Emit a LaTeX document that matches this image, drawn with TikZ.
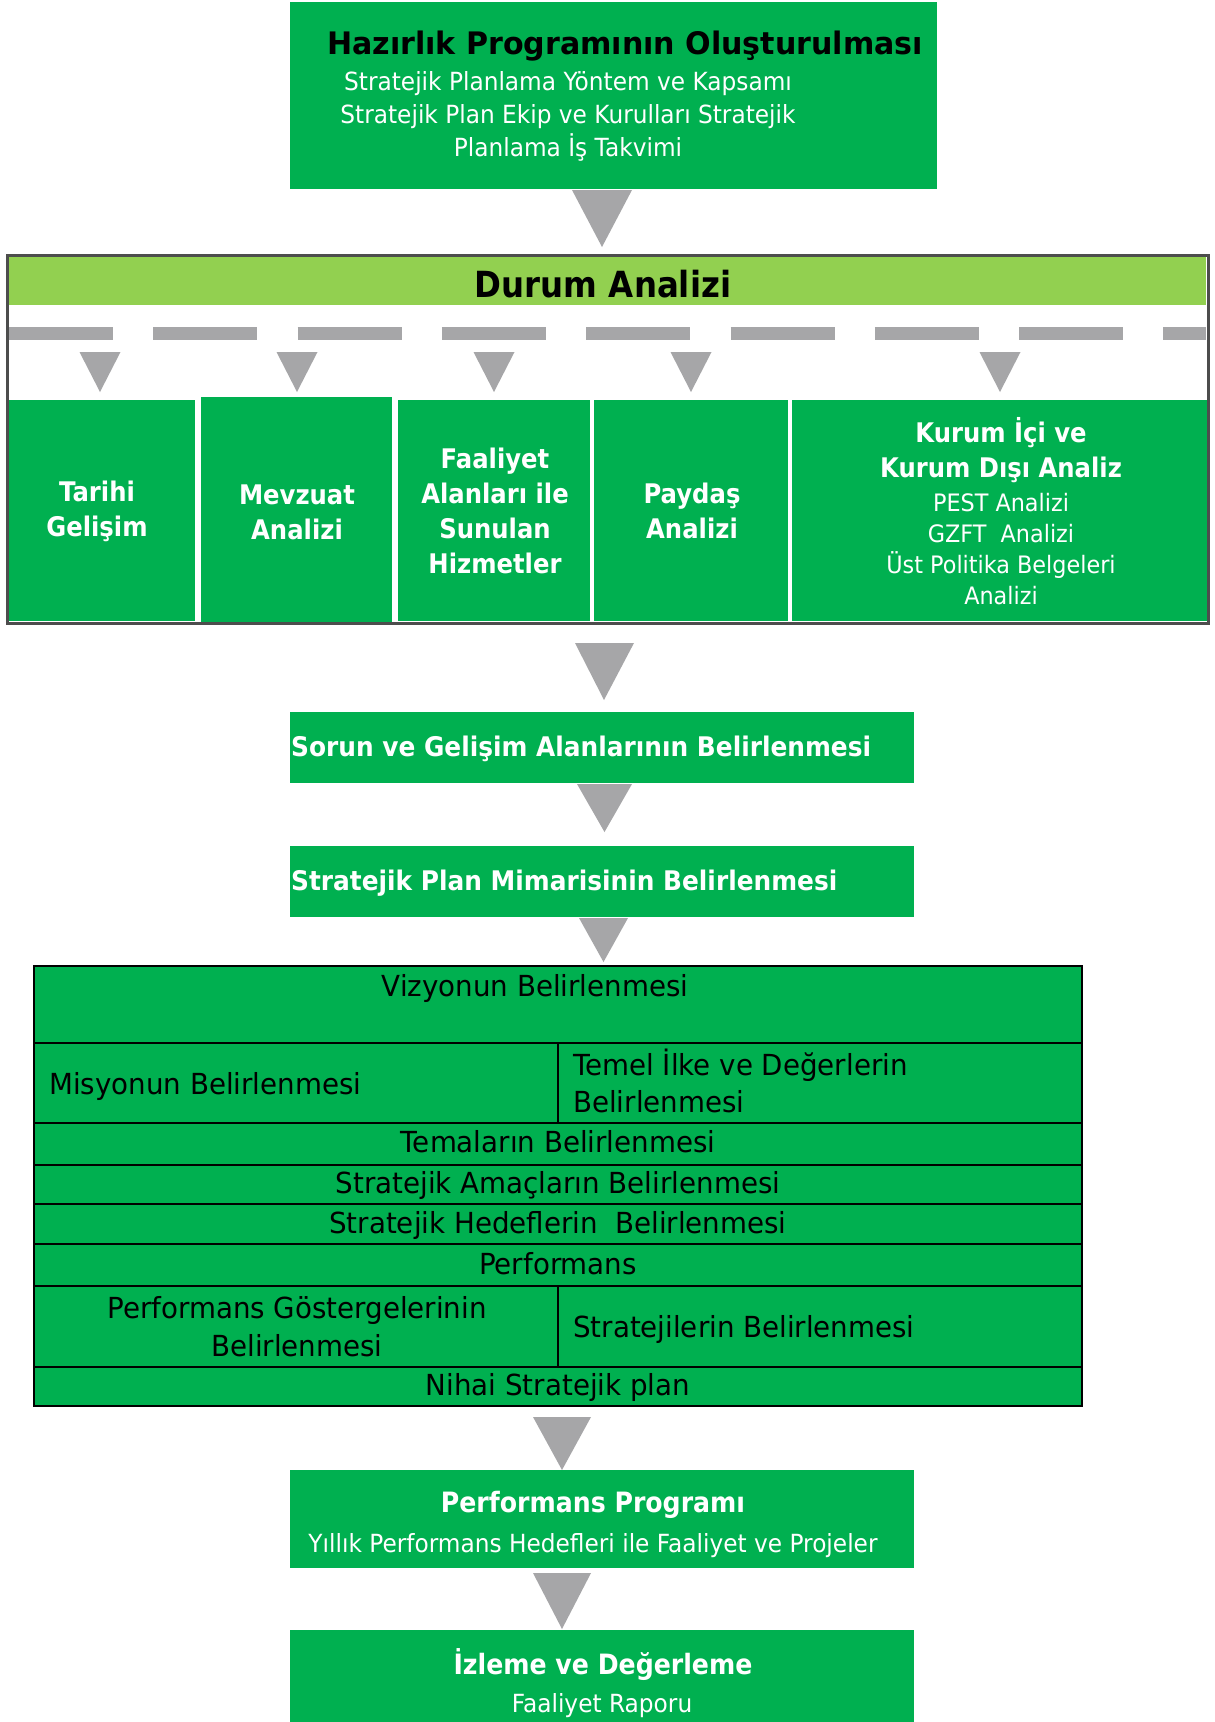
\documentclass[tikz,border=0pt]{standalone}
\usepackage{fontspec}
\setmainfont{DejaVu Sans}
\newfontfamily\bdf{DejaVu Sans}[FakeStretch=0.9]
\newfontfamily\bdg{DejaVu Sans}[FakeStretch=0.92]
\newfontfamily\rgf{DejaVu Sans}[FakeStretch=0.93]
\newfontfamily\tbf{DejaVu Sans}[FakeStretch=0.955]
\newfontfamily\ttf{DejaVu Sans}[FakeStretch=0.97]
\usetikzlibrary{calc}
\definecolor{pgreen}{HTML}{00B050}
\definecolor{lgreen}{HTML}{92D050}
\definecolor{agray}{HTML}{A6A6A8}
\definecolor{bgray}{HTML}{4D4D4D}
\tikzset{
  gbox/.style={fill=pgreen, draw=none, inner sep=0pt, outer sep=0pt, rectangle},
  tri/.style={fill=agray, draw=none},
  wtxt/.style={text=white, inner sep=0pt, align=center},
  ktxt/.style={text=black, inner sep=0pt, align=center},
  cell/.style={fill=pgreen, draw=black, line width=2.5pt, inner sep=0pt, outer sep=0pt, rectangle},
  bsz/.style={font=\bdf\bfseries\fontsize{27}{35}\selectfont},
  bbig/.style={font=\bdf\bfseries\fontsize{28}{35}\selectfont},
  rsz/.style={font=\rgf\fontsize{25}{33}\selectfont},
  tsz/.style={font=\tbf\fontsize{29}{38}\selectfont},
}
\begin{document}
\begin{tikzpicture}[x=1pt, y=-1pt]
\useasboundingbox (0,0) rectangle (1215,1722);
\fill[white] (0,0) rectangle (1215,1722);

% top box
\node[gbox, minimum width=647pt, minimum height=187pt] (top) at (613.5,95.5) {};
\node[ktxt, font=\ttf\bfseries\fontsize{31}{36}\selectfont] (ttl) at (625,46) {Hazırlık Programının Oluşturulması};
\node[wtxt, rsz] (tsub) at (568,116) {Stratejik Planlama Yöntem ve Kapsamı\\Stratejik Plan Ekip ve Kurulları Stratejik\\Planlama İş Takvimi};

% Durum Analizi
\node[fill=lgreen, inner sep=0pt, outer sep=0pt, minimum width=1197pt, minimum height=48pt] (hdr) at (607.5,281) {};
\node[ktxt, font=\bdf\bfseries\fontsize{36}{40}\selectfont] (hdrt) at (603,284) {Durum Analizi};
\draw[agray, line width=13pt, dash pattern=on 104pt off 40.3pt] (hdr.south west)++(0,28.5) coordinate (dl) -- (dl -| hdr.east);

\node[gbox, minimum width=187pt, minimum height=221pt] (tar) at (101.5,510.5) {};
\node[gbox, minimum width=191pt, minimum height=227pt] (mev) at (296.5,510.5) {};
\node[gbox, minimum width=192pt, minimum height=221pt] (faa) at (494,510.5) {};
\node[gbox, minimum width=194pt, minimum height=221pt] (pay) at (691,510.5) {};
\node[gbox, minimum width=415pt, minimum height=221pt] (kur) at (999.5,510.5) {};

\node[wtxt, bsz] (tart) at (97,511) {Tarihi\\Gelişim};
\node[wtxt, bsz] (mevt) at (297,512) {Mevzuat\\Analizi};
\node[wtxt, bsz] (faat) at (495,511) {Faaliyet\\Alanları ile\\Sunulan\\Hizmetler};
\node[wtxt, bsz] (payt) at (692,511) {Paydaş\\Analizi};
\node[wtxt, bsz] (kurt) at (1001,450) {Kurum İçi ve\\Kurum Dışı Analiz};
\node[wtxt, font=\rgf\fontsize{24}{31}\selectfont] (kurs) at (1001,549) {PEST Analizi\\GZFT~ Analizi\\Üst Politika Belgeleri\\Analizi};

\node[draw=bgray, line width=3pt, inner sep=0pt, outer sep=0pt, minimum width=1201pt, minimum height=368pt] (durum) at (607.5,439) {};

% small arrows
\fill[tri] ($(tar.north)+(-22,-48)$) -- ($(tar.north)+(19,-48)$) -- ($(tar.north)+(-1.5,-8)$) -- cycle;
\fill[tri] ($(mev.north)+(-20,-45)$) -- ($(mev.north)+(21,-45)$) -- ($(mev.north)+(0.5,-5)$) -- cycle;
\fill[tri] ($(faa.north)+(-20.5,-48)$) -- ($(faa.north)+(20.5,-48)$) -- ($(faa.north)+(0,-8)$) -- cycle;
\fill[tri] ($(pay.north)+(-20.5,-48)$) -- ($(pay.north)+(20.5,-48)$) -- ($(pay.north)+(0,-8)$) -- cycle;
\fill[tri] ($(kur.north)+(-20,-48)$) -- ($(kur.north)+(21,-48)$) -- ($(kur.north)+(0.5,-8)$) -- cycle;

% middle boxes
\node[gbox, minimum width=624pt, minimum height=71pt] (sor) at (602,747.5) {};
\node[wtxt, anchor=west, font=\bdg\bfseries\fontsize{27}{32}\selectfont] (sort) at (291,749) {Sorun ve Gelişim Alanlarının Belirlenmesi};
\node[gbox, minimum width=624pt, minimum height=71pt] (mim) at (602,881.5) {};
\node[wtxt, anchor=west, font=\bdg\bfseries\fontsize{27}{32}\selectfont] (mimt) at (291,883) {Stratejik Plan Mimarisinin Belirlenmesi};

% table
\node[cell, minimum width=1048pt, minimum height=77pt] (viz) at (558,1004.5) {};
\node[cell, minimum width=524pt, minimum height=80pt] (mis) at (296,1083) {};
\node[cell, minimum width=524pt, minimum height=80pt] (tem) at (820,1083) {};
\node[cell, minimum width=1048pt, minimum height=42pt] (tma) at (558,1144) {};
\node[cell, minimum width=1048pt, minimum height=39pt] (ama) at (558,1184.5) {};
\node[cell, minimum width=1048pt, minimum height=40pt] (hed) at (558,1224) {};
\node[cell, minimum width=1048pt, minimum height=42pt] (per) at (558,1265) {};
\node[cell, minimum width=524pt, minimum height=81pt] (gos) at (296,1326.5) {};
\node[cell, minimum width=524pt, minimum height=81pt] (str) at (820,1326.5) {};
\node[cell, minimum width=1048pt, minimum height=39pt] (nih) at (558,1386.5) {};

\node[ktxt, tsz] (vizt) at (535,988) {Vizyonun Belirlenmesi};
\node[ktxt, tsz, anchor=west] (mist) at (49,1086) {Misyonun Belirlenmesi};
\node[ktxt, font=\tbf\fontsize{29}{37}\selectfont, anchor=west, align=left] (temt) at (573,1081) {Temel İlke ve Değerlerin\\Belirlenmesi};
\node[ktxt, tsz] (tmat) at (558,1142) {Temaların Belirlenmesi};
\node[ktxt, tsz] (amat) at (558,1185) {Stratejik Amaçların Belirlenmesi};
\node[ktxt, tsz] (hedt) at (558,1225) {Stratejik Hedeflerin~ Belirlenmesi};
\node[ktxt, tsz] (pert) at (558,1264) {Performans};
\node[ktxt, tsz] (gost) at (297,1327) {Performans Göstergelerinin\\Belirlenmesi};
\node[ktxt, tsz, anchor=west] (strt) at (573,1329) {Stratejilerin Belirlenmesi};
\node[ktxt, tsz] (niht) at (558,1387) {Nihai Stratejik plan};

% bottom boxes
\node[gbox, minimum width=624pt, minimum height=98pt] (prf) at (602,1519) {};
\node[wtxt, bbig] (prft) at (593,1505) {Performans Programı};
\node[wtxt, rsz] (prfs) at (593,1546) {Yıllık Performans Hedefleri ile Faaliyet ve Projeler};
\node[gbox, minimum width=624pt, minimum height=92pt] (izl) at (602,1676) {};
\node[wtxt, bbig] (izlt) at (603,1665) {İzleme ve Değerleme};
\node[wtxt, rsz] (izls) at (602,1706) {Faaliyet Raporu};

% main arrows
\fill[tri] ($(top.south)+(-41.5,1)$) -- ($(top.south)+(18.5,1)$) -- ($(durum.north)+(-5.5,-8)$) -- cycle;
\fill[tri] ($(durum.south)+(-32.5,20)$) -- ($(durum.south)+(26.5,20)$) -- ($(sor.north)+(2,-12)$) -- cycle;
\fill[tri] ($(sor.south)+(-25,1)$) -- ($(sor.south)+(30,1)$) -- ($(mim.north)+(2.5,-14)$) -- cycle;
\fill[tri] ($(mim.south)+(-23,1)$) -- ($(mim.south)+(26,1)$) -- ($(viz.north)+(45.5,-4)$) -- cycle;
\fill[tri] ($(nih.south)+(-25,11)$) -- ($(nih.south)+(33,11)$) -- ($(prf.north)+(-40,0)$) -- cycle;
\fill[tri] ($(prf.south)+(-69,5)$) -- ($(prf.south)+(-11,5)$) -- ($(izl.north)+(-40,-1)$) -- cycle;
\end{tikzpicture}
\end{document}
